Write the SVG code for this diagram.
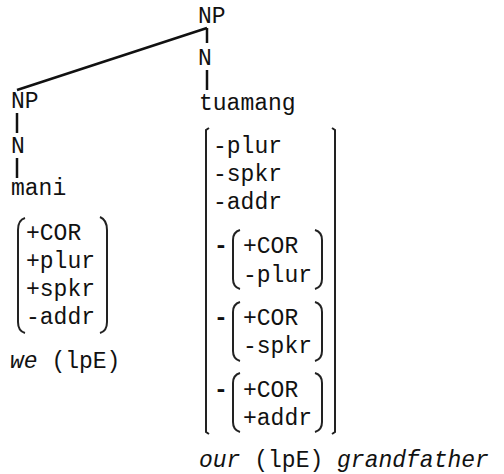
<svg xmlns="http://www.w3.org/2000/svg" width="504" height="474" viewBox="0 0 504 474">
<style>
text{font-family:"Liberation Mono","Courier New",monospace;font-size:23px;fill:#111}
.it{font-style:italic}
.b{font-weight:bold}
.ln{stroke:#111;stroke-width:2.5;fill:none;stroke-linecap:butt}
.br{stroke:#222;stroke-width:2;fill:none}
</style>
<rect width="504" height="474" fill="#fff"/>
<g id="connectors">
<path class="ln" d="M207 28 L17 90"/>
<path class="ln" d="M207 28 L207 43"/>
<path class="ln" d="M207 70 L207 90"/>
<path class="ln" d="M17 113 L17 133"/>
<path class="ln" d="M17 158 L17 178"/>
</g>
<g id="np-top"><text x="198" y="23">NP</text></g>
<g id="n-right"><text x="198" y="65">N</text></g>
<g id="tuamang"><text x="199" y="110">tuamang</text></g>
<g id="np-left"><text x="11" y="108">NP</text></g>
<g id="n-left"><text x="11" y="153">N</text></g>
<g id="mani"><text x="11" y="195">mani</text></g>
<g id="features-mani">
<path class="br" d="M25 218 Q18 220 18 230 L18 322 Q18 331 25 333"/>
<path class="br" d="M100 217 Q107 220 107 230 L107 322 Q107 331 100 333"/>
<text x="26" y="240">+COR</text>
<text x="26" y="268">+plur</text>
<text x="26" y="296">+spkr</text>
<text x="26" y="324">-addr</text>
</g>
<g id="gloss-left"><text x="10" y="368"><tspan class="it">we</tspan> (lpE)</text></g>
<g id="features-tuamang">
<path class="br" d="M209 128 L206 130 L206 432 L209 434"/>
<path class="br" d="M332 128 L335 130 L335 432 L332 434"/>
<text x="213" y="153">-plur</text>
<text x="213" y="181">-spkr</text>
<text x="213" y="209">-addr</text>
<text class="b" x="214" y="253">-</text>
<path class="br" d="M240 230 Q233 232 233 240 L233 279 Q233 287 240 289"/>
<path class="br" d="M315 230 Q322 232 322 240 L322 279 Q322 287 315 289"/>
<text x="243" y="253">+COR</text>
<text x="243" y="282">-plur</text>
<text class="b" x="214" y="325">-</text>
<path class="br" d="M240 302 Q233 304 233 312 L233 351 Q233 359 240 361"/>
<path class="br" d="M315 302 Q322 304 322 312 L322 351 Q322 359 315 361"/>
<text x="243" y="325">+COR</text>
<text x="243" y="353">-spkr</text>
<text class="b" x="214" y="397">-</text>
<path class="br" d="M240 373 Q233 375 233 383 L233 422 Q233 430 240 432"/>
<path class="br" d="M315 373 Q322 375 322 383 L322 422 Q322 430 315 432"/>
<text x="243" y="397">+COR</text>
<text x="243" y="425">+addr</text>
</g>
<g id="gloss-right"><text x="199" y="467"><tspan class="it">our</tspan> (lpE) <tspan class="it">grandfather</tspan></text></g>
</svg>
